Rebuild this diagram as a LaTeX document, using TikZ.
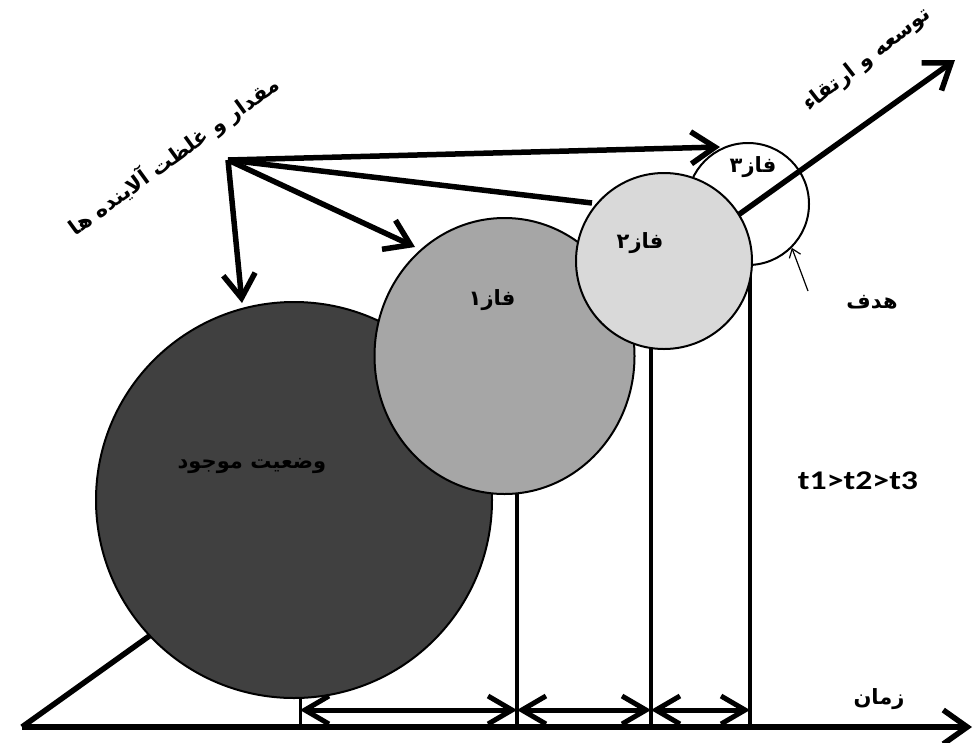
\documentclass[tikz,border=0pt]{standalone}
\usepackage{fontspec}
\usetikzlibrary{arrows.meta,shapes.geometric}
\newfontfamily\fa[Script=Arabic]{DejaVu Sans}
\newfontfamily\lat{Carlito}
\TeXXeTstate=1
\begin{document}
\begin{tikzpicture}[x=1pt,y=-1pt,
  bub/.style={draw=black,line width=2pt,inner sep=0pt},
  bar/.style={line width=4pt},
  bigarrow/.style={line width=5.5pt,-{Straight Barb[length=24pt,width=32pt]}},
  axisline/.style={line width=5.5pt},
  dbl/.style={line width=5pt,{Straight Barb[length=24pt,width=28pt]}-{Straight Barb[length=24pt,width=28pt]}},
  fatxt/.style={font=\fa\bfseries\fontsize{21}{24}\selectfont,inner sep=0pt},
  thin/.style={line width=1.2pt,-{Straight Barb[length=8pt,width=12pt]}}]
\useasboundingbox (0,0) rectangle (974,742);
% axis coordinates
\coordinate (o) at (22,727);
\coordinate (xend) at (972,727);
\coordinate (dend) at (955,60);
\coordinate (t0) at (300,727);
\coordinate (t1) at (517,727);
\coordinate (t2) at (651,727);
\coordinate (t3) at (750,727);
\coordinate (u0) at (300,600);
\coordinate (u1) at (517,400);
\coordinate (u2) at (651,300);
\coordinate (u3) at (750,220);
% vertical bars (behind circles)
\draw[bar,line width=3pt] (t0) -- (u0);
\draw[bar] (t1) -- (u1);
\draw[bar] (t2) -- (u2);
\draw[bar] (t3) -- (u3);
% phase 3 (white)
\node[bub,circle,fill=white,minimum size=122pt] (c3) at (748,204) {};
% development axis
\draw[axisline,-{Straight Barb[length=24pt,width=34pt]}] (o) -- (dend);
% circles
\node[bub,circle,fill=black!75,minimum size=396pt] (c0) at (294,500) {};
\node[bub,ellipse,fill=black!35,minimum width=260pt,minimum height=276pt] (c1) at (504.5,356) {};
\node[bub,circle,fill=black!15,minimum size=176pt] (c2) at (664,261) {};
% time axis
\draw[axisline,-{Straight Barb[length=24pt,width=34pt]}] (o) -- (xend);
% interval arrows
\coordinate (d0) at (300,710);
\coordinate (d1) at (517,710);
\coordinate (d2) at (651,710);
\coordinate (d3) at (750,710);
\draw[dbl] (d0) -- (d1);
\draw[dbl] (d1) -- (d2);
\draw[dbl] (d2) -- (d3);
% pollutant arrows
\coordinate (src) at (228,160);
\coordinate (a0) at (242,303);
\coordinate (a1) at (415,247);
\coordinate (a2) at (592,203);
\coordinate (a3) at (720,147);
\draw[bigarrow] (src) -- (a0);
\draw[bigarrow] (src) -- (a1);
\draw[line width=5.5pt] (src) -- (a2);
\draw[bigarrow] (src) -- (a3);
% goal pointer
\coordinate (g0) at (808,291);
\draw[thin] (g0) -- (c3.-45);
% labels
\node[fatxt,rotate=36] (lp) at (174,156) {\beginR مقدار و غلظت آلاینده ها\endR};
\node[fatxt,rotate=38] (ld) at (867,60) {\beginR توسعه و ارتقاء\endR};
\node[fatxt] (l3) at (753,167) {\beginR فاز۳\endR};
\node[fatxt] (l2) at (640,243) {\beginR فاز۲\endR};
\node[fatxt] (l1) at (492,300) {\beginR فاز۱\endR};
\node[fatxt] (l0) at (252,466) {\beginR وضعیت موجود\endR};
\node[fatxt] (lg) at (872,302) {\beginR هدف\endR};
\node[fatxt] (lz) at (879,699) {\beginR زمان\endR};
\node[font=\lat\bfseries\fontsize{27}{30}\selectfont,inner sep=0pt] (lt) at (858,481) {\scalebox{1.25}[1]{t1>t2>t3}};
\end{tikzpicture}
\end{document}
